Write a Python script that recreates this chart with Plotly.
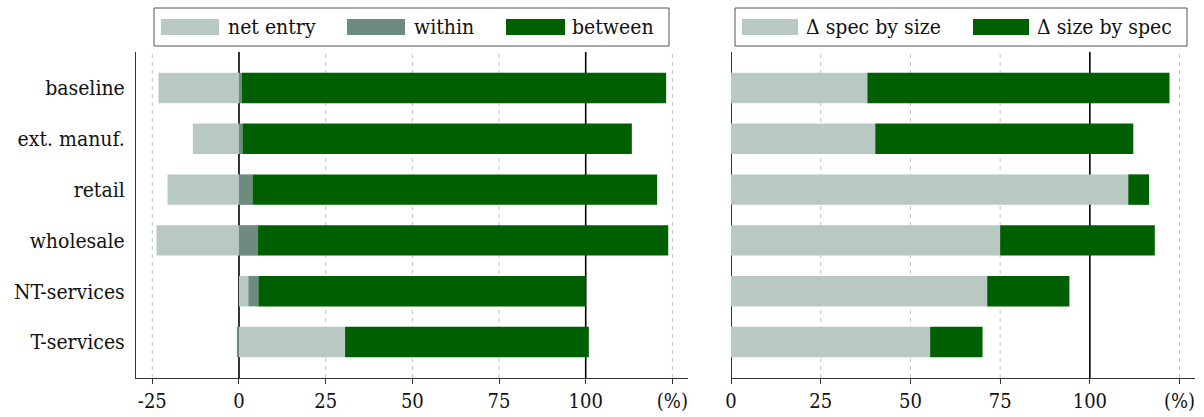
import plotly.graph_objects as go

# Decomposition of aggregate change by sector (in %)
categories = ["baseline", "ext. manuf.", "retail", "wholesale", "NT-services", "T-services"]
net_entry = [-23.2, -13.3, -20.6, -23.8, 2.7, 30.6]
within = [0.8, 1.0, 3.9, 5.5, 2.9, -0.6]
between = [122.4, 112.3, 116.7, 118.3, 94.4, 70.3]

spec_by_size = [38.0, 40.2, 110.7, 75.0, 71.4, 55.5]
size_by_spec = [84.2, 71.9, 5.8, 43.1, 22.9, 14.6]

left_names = ["net entry", "within", "between"]
right_names = ["\u0394 spec by size", "\u0394 size by spec"]

tick_vals = [-25, 0, 25, 50, 75, 100, 125]
tick_text = ["-25", "0", "25", "50", "75", "100", "(%)"]
tick_vals_r = [0, 25, 50, 75, 100, 125]
tick_text_r = ["0", "25", "50", "75", "100", "(%)"]
solid_at = [0, 100]

LIGHT = "#b7c9c2"
MID = "#6e8b7f"
DARK = "#005f00"
FONT = "DejaVu Serif Condensed, DejaVu Serif"
W, H = 1204, 417

fig = go.Figure()
for name, vals, col in zip(left_names, [net_entry, within, between], [LIGHT, MID, DARK]):
    fig.add_trace(go.Bar(y=categories, x=vals, orientation="h", name=name,
                         marker=dict(color=col, line=dict(width=0)), width=0.6,
                         xaxis="x", yaxis="y", showlegend=False))
for name, vals, col in zip(right_names, [spec_by_size, size_by_spec], [LIGHT, DARK]):
    fig.add_trace(go.Bar(y=categories, x=vals, orientation="h", name=name,
                         marker=dict(color=col, line=dict(width=0)), width=0.6,
                         xaxis="x2", yaxis="y2", showlegend=False))

def px(v):
    return v / W

def py(v):
    return 1 - v / H

ydom = [py(378), py(52)]
axis_common = dict(showgrid=False, zeroline=False, showline=True, linecolor="#333333",
                   linewidth=1, ticks="outside", ticklen=5, tickcolor="#333333",
                   automargin=False,
                   tickfont=dict(family=FONT, size=20, color="#111111"))

fig.update_layout(
    template="none",
    font=dict(family=FONT),
    width=W, height=H, margin=dict(l=0, r=0, t=0, b=0, pad=0),
    paper_bgcolor="white", plot_bgcolor="white", barmode="relative",
    xaxis=dict(domain=[px(136), px(688)], range=[-29.7, 129.5], anchor="y",
               tickvals=tick_vals, ticktext=tick_text, **axis_common),
    xaxis2=dict(domain=[px(731), px(1195)], range=[0, 129.3], anchor="y2",
                tickvals=tick_vals_r, ticktext=tick_text_r, **axis_common),
    yaxis=dict(domain=ydom, range=[5.71, -0.71], anchor="x", showgrid=False,
               zeroline=False, showline=True, linecolor="#333333", linewidth=1,
               ticks="", ticklabelstandoff=6, automargin=False,
               tickfont=dict(family=FONT, size=21, color="#111111")),
    yaxis2=dict(domain=ydom, range=[5.71, -0.71], anchor="x2", showgrid=False,
                zeroline=False, showline=False, showticklabels=False, ticks="",
                automargin=False),
    showlegend=False,
)

# vertical guides: solid black at 0 and 100 %, dashed grey elsewhere
for xr, yr, vals in [("x", "y domain", tick_vals), ("x2", "y2 domain", tick_vals_r)]:
    for v in vals:
        if v in solid_at:
            line = dict(color="black", width=1.6)
        else:
            line = dict(color="#c4c4c4", width=1, dash="4px,4px")
        fig.add_shape(type="line", xref=xr, yref=yr, x0=v, x1=v, y0=0, y1=1,
                      line=line, layer="below")

# legend boxes
def legend_box(x0, x1, items):
    fig.add_shape(type="rect", xref="paper", yref="paper",
                  x0=px(x0), x1=px(x1), y0=py(46), y1=py(8),
                  line=dict(color="#555555", width=1), fillcolor="white")
    for (sx0, sx1, tx, label, col) in items:
        fig.add_shape(type="rect", xref="paper", yref="paper",
                      x0=px(sx0), x1=px(sx1), y0=py(35), y1=py(19),
                      line=dict(width=0), fillcolor=col)
        fig.add_annotation(xref="paper", yref="paper", x=px(tx), y=py(27),
                           xanchor="left", yanchor="middle", showarrow=False,
                           text=label, font=dict(family=FONT, size=21, color="#111111"))

legend_box(154, 669, [(161, 219, 226, left_names[0], LIGHT),
                      (347, 405, 412, left_names[1], MID),
                      (506, 565, 570, left_names[2], DARK)])
legend_box(735, 1187, [(742, 798, 804, right_names[0], LIGHT),
                       (973, 1029, 1035, right_names[1], DARK)])

fig.write_html("out.html")
